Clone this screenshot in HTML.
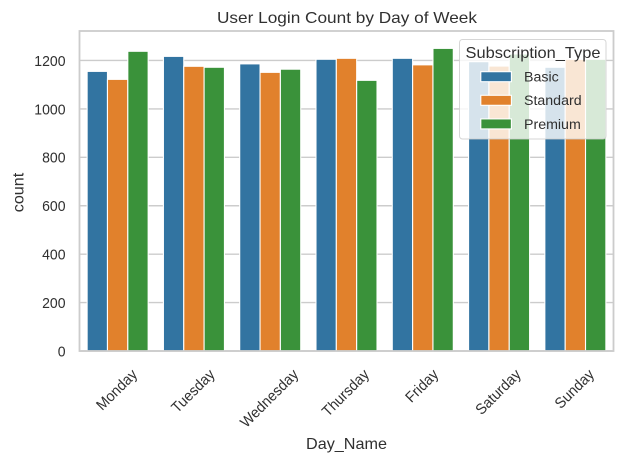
<!DOCTYPE html>
<html>
<head>
<meta charset="utf-8">
<style>
html,body{margin:0;padding:0;background:#fff;}
svg{display:block;}
text{font-family:"Liberation Sans","Noto Sans CJK KR",sans-serif;fill:#303030;}
</style>
</head>
<body>
<svg id="chart" width="623" height="464" viewBox="0 0 623 464" xmlns="http://www.w3.org/2000/svg">
  <rect x="0" y="0" width="623" height="464" fill="#ffffff"/>
  <text x="347" y="23" text-anchor="middle" font-size="16" textLength="260" lengthAdjust="spacingAndGlyphs">User Login Count by Day of Week</text>
  <g id="grid"></g>
  <g id="bars"></g>
  <g id="spines"></g>
  <g id="yticks"></g>
  <g id="xticks"></g>
  <text x="0" y="0" transform="translate(23.5 192.5) rotate(-90)" text-anchor="middle" font-size="16" textLength="39.5" lengthAdjust="spacingAndGlyphs">count</text>
  <text x="346.5" y="449" text-anchor="middle" font-size="16" textLength="81" lengthAdjust="spacingAndGlyphs">Day_Name</text>
  <g id="legend"></g>
</svg>
<script>
var categories = ["Monday","Tuesday","Wednesday","Thursday","Friday","Saturday","Sunday"];
var seriesNames = ["Basic","Standard","Premium"];
var basicValues = [1155,1217,1186,1205,1209,1195,1172];
var standardValues = [1122,1176,1151,1209,1182,1177,1205];
var premiumValues = [1238,1172,1164,1118,1250,1227,1205];
var yTickValues = [0,200,400,600,800,1000,1200];

var seriesValues = [basicValues, standardValues, premiumValues];
var seriesColors = ["#3274a1","#e1812c","#3a923a"];
var NS = "http://www.w3.org/2000/svg";
var plot = {left:79.5, right:613.5, top:31, bottom:351};
var yMax = (plot.bottom - plot.top) / 0.2421;

function xBand(i){ return plot.left + (i + 0.5) * (plot.right - plot.left) / categories.length; }
function yScale(v){ return plot.bottom - v / yMax * (plot.bottom - plot.top); }
function make(tag, attrs, parent){
  var el = document.createElementNS(NS, tag);
  for (var k in attrs) el.setAttribute(k, attrs[k]);
  parent.appendChild(el);
  return el;
}

var gridG = document.getElementById("grid");
var ytickG = document.getElementById("yticks");
yTickValues.forEach(function(v){
  var y = yScale(v);
  var line = make("line", {x1:plot.left, x2:plot.right, y1:y, y2:y, stroke:"#cccccc", "stroke-width":1.4}, gridG);
  
  
  var label = make("text", {x:65.5, y:y + 5.4, "text-anchor":"end", "font-size":15}, ytickG);
  
  
  label.textContent = v;
  label.setAttribute("textLength", String(v).length * 7.8);
  label.setAttribute("lengthAdjust", "spacingAndGlyphs");
});

var barsG = document.getElementById("bars");
var band = (plot.right - plot.left) / categories.length;
var barW = band * 0.8 / seriesNames.length;
seriesValues.forEach(function(values, s){
  values.forEach(function(v, i){
    var x = xBand(i) - band * 0.4 + s * barW;
    var rect = make("rect", {x:x, y:yScale(v), width:barW, height:plot.bottom - yScale(v), fill:seriesColors[s], stroke:"#ffffff", "stroke-width":1.1}, barsG);
    
    
  });
});

var spinesG = document.getElementById("spines");
var frame = make("rect", {x:plot.left, y:plot.top, width:plot.right - plot.left, height:plot.bottom - plot.top, fill:"none", stroke:"#cccccc", "stroke-width":1.8}, spinesG);



var xtickG = document.getElementById("xticks");
categories.forEach(function(name, i){
  var label = make("text", {"text-anchor":"middle", "font-size":15}, xtickG);
  
  
  label.textContent = name;
  var len = label.getComputedTextLength() * 0.95;
  label.setAttribute("textLength", len);
  label.setAttribute("lengthAdjust", "spacingAndGlyphs");
  var h = 15;
  var cy = 366.5 + (len + h) * Math.SQRT1_2 / 2;
  var cx = xBand(i) - 1;
  label.setAttribute("transform", "translate(" + cx + " " + cy + ") rotate(-45)");
  label.setAttribute("y", 5);
});

var legendG = document.getElementById("legend");
var box = make("rect", {x:459.5, y:39.5, width:146.5, height:99.5, rx:3, ry:3, fill:"#ffffff", "fill-opacity":0.8, stroke:"#cccccc", "stroke-opacity":0.8, "stroke-width":1}, legendG);


var legendTitle = make("text", {x:533, y:58, "text-anchor":"middle", "font-size":16, textLength:135, lengthAdjust:"spacingAndGlyphs"}, legendG);


legendTitle.textContent = "Subscription_Type";
seriesNames.forEach(function(name, s){
  var yMid = 76.6 + s * 23.6;
  var swatch = make("rect", {x:480.8, y:yMid - 4.9, width:30.6, height:10, fill:seriesColors[s], stroke:"#ffffff", "stroke-width":1.1}, legendG);
  
  
  var text = make("text", {x:524, y:yMid + 5, "font-size":14.2}, legendG);
  
  
  text.textContent = name;
});
</script>
</body>
</html>
